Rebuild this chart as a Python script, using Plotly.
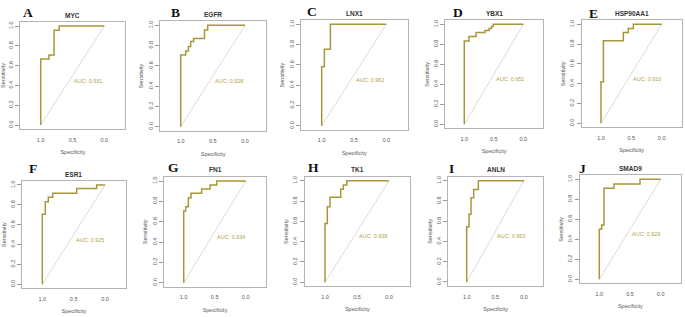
import plotly.graph_objects as go

# ---------------- data ----------------
genes = ["MYC", "EGFR", "LNX1", "YBX1", "HSP90AA1", "ESR1", "FN1", "TK1", "ANLN", "SMAD9"]
letters = ["A", "B", "C", "D", "E", "F", "G", "H", "I", "J"]
auc_values = [0.931, 0.928, 0.962, 0.951, 0.910, 0.925, 0.934, 0.939, 0.953, 0.929]

# ROC points (specificity, sensitivity) at each threshold
spec_myc = [1.0, 1.0, 0.87, 0.79, 0.71, 0.0]
sens_myc = [0.0, 0.667, 0.708, 0.958, 1.0, 1.0]

spec_egfr = [1.0, 1.0, 0.922, 0.88, 0.845, 0.80, 0.63, 0.58, 0.0]
sens_egfr = [0.0, 0.707, 0.747, 0.79, 0.84, 0.87, 0.954, 1.0, 1.0]

spec_lnx1 = [1.0, 1.0, 0.959, 0.866, 0.0]
sens_lnx1 = [0.0, 0.582, 0.753, 1.0, 1.0]

spec_ybx1 = [1.0, 1.0, 0.921, 0.80, 0.65, 0.58, 0.54, 0.51, 0.0]
sens_ybx1 = [0.0, 0.833, 0.877, 0.917, 0.938, 0.958, 0.979, 1.0, 1.0]

spec_hsp90aa1 = [1.0, 1.0, 0.96, 0.632, 0.55, 0.467, 0.0]
sens_hsp90aa1 = [0.0, 0.42, 0.835, 0.916, 0.958, 1.0, 1.0]

spec_esr1 = [1.0, 1.0, 0.952, 0.904, 0.835, 0.452, 0.133, 0.0]
sens_esr1 = [0.0, 0.705, 0.832, 0.876, 0.916, 0.966, 1.0, 1.0]

spec_fn1 = [1.0, 1.0, 0.968, 0.925, 0.882, 0.71, 0.575, 0.468, 0.0]
sens_fn1 = [0.0, 0.705, 0.748, 0.836, 0.879, 0.921, 0.961, 1.0, 1.0]

spec_tk1 = [1.0, 1.0, 0.964, 0.922, 0.755, 0.714, 0.66, 0.0]
sens_tk1 = [0.0, 0.58, 0.744, 0.836, 0.915, 0.957, 1.0, 1.0]

spec_anln = [1.0, 1.0, 0.959, 0.924, 0.878, 0.797, 0.0]
sens_anln = [0.0, 0.546, 0.668, 0.832, 0.914, 1.0, 1.0]

spec_smad9 = [1.0, 1.0, 0.962, 0.924, 0.761, 0.337, 0.0]
sens_smad9 = [0.0, 0.5, 0.543, 0.91, 0.953, 1.0, 1.0]

spec_list = [spec_myc, spec_egfr, spec_lnx1, spec_ybx1, spec_hsp90aa1,
             spec_esr1, spec_fn1, spec_tk1, spec_anln, spec_smad9]
sens_list = [sens_myc, sens_egfr, sens_lnx1, sens_ybx1, sens_hsp90aa1,
             sens_esr1, sens_fn1, sens_tk1, sens_anln, sens_smad9]

y_ticks = [0.0, 0.2, 0.4, 0.6, 0.8, 1.0]
y_tick_text = ["0.0", "0.2", "0.4", "0.6", "0.8", "1.0"]
x_ticks = [1.0, 0.5, 0.0]
x_tick_text = ["1.0", "0.5", "0.0"]

# ---------------- layout geometry (page pixels) ----------------
W, H = 685, 317
# page-pixel location of specificity 1.0, specificity 0.0, sensitivity 1.0, sensitivity 0.0
panel_px = [
    (40.7, 104.3, 26.0, 125.0),
    (180.7, 245.0, 25.3, 126.7),
    (321.7, 386.3, 24.3, 125.7),
    (464.3, 523.3, 24.3, 124.3),
    (601.0, 661.7, 24.3, 123.3),
    (42.3, 105.0, 185.0, 284.3),
    (183.7, 245.7, 181.0, 282.7),
    (325.0, 389.0, 180.7, 282.3),
    (466.7, 524.0, 180.7, 282.0),
    (599.3, 660.7, 179.3, 279.3),
]
letter_px = [(28, 13), (175, 13), (312, 12), (458, 13), (593, 14),
             (33, 168), (173, 167), (313, 167), (452, 168), (582, 168)]

X_LO, X_HI = 1.32, -0.33
Y_LO, Y_HI = -0.04, 1.04

LINE_COL = "#A8963A"
TEXT_COL = "#B3A24A"
BOX_COL = "#b4b4b4"
DIAG_COL = "#d0d0d0"
FONT = "Liberation Sans, Arial, sans-serif"

fig = go.Figure()
annotations = []
layout_axes = {}


def fx(px):
    return px / W


def fy(py):
    return 1 - py / H


for i in range(10):
    x1p, x0p, y1p, y0p = panel_px[i]
    ux = x0p - x1p
    uy = y0p - y1p
    left = x1p - (X_LO - 1.0) * ux
    right = x0p + (0.0 - X_HI) * ux
    top = y1p - (Y_HI - 1.0) * uy
    bottom = y0p + (0.0 - Y_LO) * uy

    n = "" if i == 0 else str(i + 1)
    xa, ya = "x" + n, "y" + n

    # diagonal reference line
    fig.add_trace(go.Scatter(x=[1.0, 0.0], y=[0.0, 1.0], mode="lines",
                             line=dict(color=DIAG_COL, width=0.8),
                             xaxis=xa, yaxis=ya, showlegend=False, hoverinfo="skip"))
    # ROC curve
    fig.add_trace(go.Scatter(x=spec_list[i], y=sens_list[i], mode="lines",
                             line=dict(color=LINE_COL, width=1.5, shape="hv"),
                             xaxis=xa, yaxis=ya, showlegend=False, name=genes[i]))

    layout_axes["xaxis" + n] = dict(
        domain=[fx(left), fx(right)], range=[X_LO, X_HI], anchor=ya,
        tickvals=x_ticks, ticktext=x_tick_text, ticks="outside", ticklen=5,
        tickcolor="rgba(0,0,0,0)", tickwidth=0.6,
        tickfont=dict(size=5.5, color="#555", family=FONT),
        showline=True, mirror=True, linecolor=BOX_COL, linewidth=1,
        showgrid=False, zeroline=False,
        title=dict(text="Specificity", font=dict(size=5.5, color="#555", family=FONT), standoff=8),
    )
    layout_axes["yaxis" + n] = dict(
        domain=[fy(bottom), fy(top)], range=[Y_LO, Y_HI], anchor=xa,
        tickvals=y_ticks, ticktext=y_tick_text, ticks="outside", ticklen=4,
        tickcolor="#999", tickwidth=0.6, tickangle=-90,
        tickfont=dict(size=5.5, color="#555", family=FONT),
        showline=True, mirror=True, linecolor=BOX_COL, linewidth=1,
        showgrid=False, zeroline=False,
        title=dict(text="Sensitivity", font=dict(size=5.5, color="#555", family=FONT), standoff=3),
    )

    # panel title
    annotations.append(dict(x=fx((left + right) / 2), y=fy(top - 7), xref="paper", yref="paper",
                            text="<b>" + genes[i] + "</b>", showarrow=False,
                            font=dict(size=6.5, color="#333", family=FONT),
                            xanchor="center", yanchor="middle"))
    # panel letter
    lx, ly = letter_px[i]
    annotations.append(dict(x=fx(lx), y=fy(ly), xref="paper", yref="paper",
                            text="<b>" + letters[i] + "</b>", showarrow=False,
                            font=dict(size=13.5, color="#111", family="Liberation Serif, Times New Roman, serif"),
                            xanchor="center", yanchor="middle"))
    # AUC text
    annotations.append(dict(x=0.5, y=0.5, xref=xa, yref=ya,
                            text="AUC: %.3f" % auc_values[i], showarrow=False,
                            font=dict(size=5.5, color=TEXT_COL, family=FONT),
                            xanchor="left", yanchor="top"))

fig.update_layout(
    width=W, height=H,
    margin=dict(l=0, r=0, t=0, b=0),
    paper_bgcolor="white", plot_bgcolor="white",
    annotations=annotations,
    showlegend=False,
    **layout_axes,
)

# remove the browser's default 8px body margin so the figure sits at the page origin
fig.write_html("out.html", config={"displayModeBar": False},
               post_script="document.body.style.margin='0px';")
